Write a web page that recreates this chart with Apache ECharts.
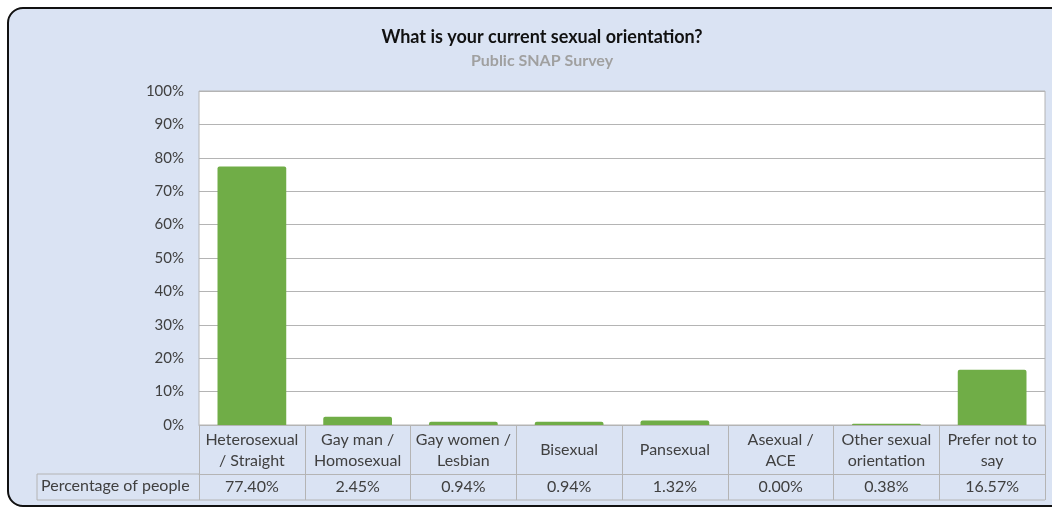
<!DOCTYPE html>
<html>
<head>
<meta charset="utf-8">
<script src="https://cdn.jsdelivr.net/npm/echarts@6/dist/echarts.min.js"></script>
<style>
  html, body { margin: 0; padding: 0; background: #fff; overflow: hidden; }
  #wrap { position: relative; width: 1052px; height: 509px; overflow: hidden; }
  #frame {
    position: absolute; left: 7px; top: 7px; width: 1200px; height: 496px;
    background: #dae3f3; border: 2px solid #111; border-radius: 16px;
  }
  #chart { position: absolute; left: 0; top: 0; width: 1052px; height: 509px; }
</style>
</head>
<body>
<div id="wrap">
  <div id="frame"></div>
  <div id="chart"></div>
</div>
<script>
// 分类、数值
var categories = [
    'Heterosexual\n/ Straight',
    'Gay man /\nHomosexual',
    'Gay women /\nLesbian',
    'Bisexual',
    'Pansexual',
    'Asexual /\nACE',
    'Other sexual\norientation',
    'Prefer not to\nsay'
];
var percentages = [77.40, 2.45, 0.94, 0.94, 1.32, 0.00, 0.38, 16.57];
var yTicks = [0, 10, 20, 30, 40, 50, 60, 70, 80, 90, 100];
var rowLabel = 'Percentage of people';

var FONT = 'Lato';
var lineColor = '#b4b4b4';
var textColor = '#404040';

var valueLabels = percentages.map(function (v) { return v.toFixed(2) + '%'; });

var myChart = echarts.init(document.getElementById('chart'));

myChart.setOption({
    backgroundColor: 'transparent',
    animation: false,
    title: [
        {
            text: 'What is your current sexual orientation?',
            left: 537, top: 23, textAlign: 'center',
            textStyle: { fontFamily: FONT, fontSize: 18, fontWeight: 'bold', color: '#111' }
        },
        {
            text: 'Public SNAP Survey',
            left: 537, top: 48, textAlign: 'center',
            textStyle: { fontFamily: FONT, fontSize: 16, fontWeight: 'bold', color: '#a0a0a0' }
        }
    ],
    grid: {
        left: 199, right: 7, top: 91, bottom: 84,
        show: true, backgroundColor: '#fff', borderColor: lineColor, borderWidth: 1
    },
    xAxis: [
        {
            type: 'category',
            data: categories,
            position: 'bottom',
            axisLine: { lineStyle: { color: lineColor } },
            axisTick: { show: true, length: 75, interval: 0, lineStyle: { color: lineColor } },
            axisLabel: {
                interval: 0, margin: 25, verticalAlign: 'middle', align: 'center',
                fontFamily: FONT, fontSize: 16, lineHeight: 21, color: textColor
            }
        },
        {
            type: 'category',
            data: valueLabels,
            position: 'bottom',
            offset: 49,
            axisLine: { show: true, lineStyle: { color: lineColor } },
            axisTick: { show: false },
            axisLabel: {
                interval: 0, margin: 13, verticalAlign: 'middle', align: 'center',
                fontFamily: FONT, fontSize: 16, color: textColor
            }
        }
    ],
    yAxis: {
        type: 'value',
        min: yTicks[0], max: yTicks[yTicks.length - 1], interval: 10,
        axisLine: { show: false },
        axisTick: { show: false },
        splitLine: { lineStyle: { color: lineColor } },
        axisLabel: {
            margin: 15, fontFamily: FONT, fontSize: 15, color: textColor,
            formatter: '{value}%'
        }
    },
    series: [
        {
            type: 'bar',
            data: percentages,
            barCategoryGap: '35%',
            itemStyle: { color: '#70ad47', borderRadius: [2, 2, 0, 0] }
        }
    ],
    graphic: [
        {
            type: 'polyline',
            shape: { points: [[199, 474], [37, 474], [37, 500], [1045, 500]] },
            style: { stroke: lineColor, lineWidth: 1, fill: null }
        },
        {
            type: 'text',
            left: 41, top: 478,
            style: { text: rowLabel, font: '16px ' + FONT, fill: textColor }
        }
    ]
});
</script>
</body>
</html>
